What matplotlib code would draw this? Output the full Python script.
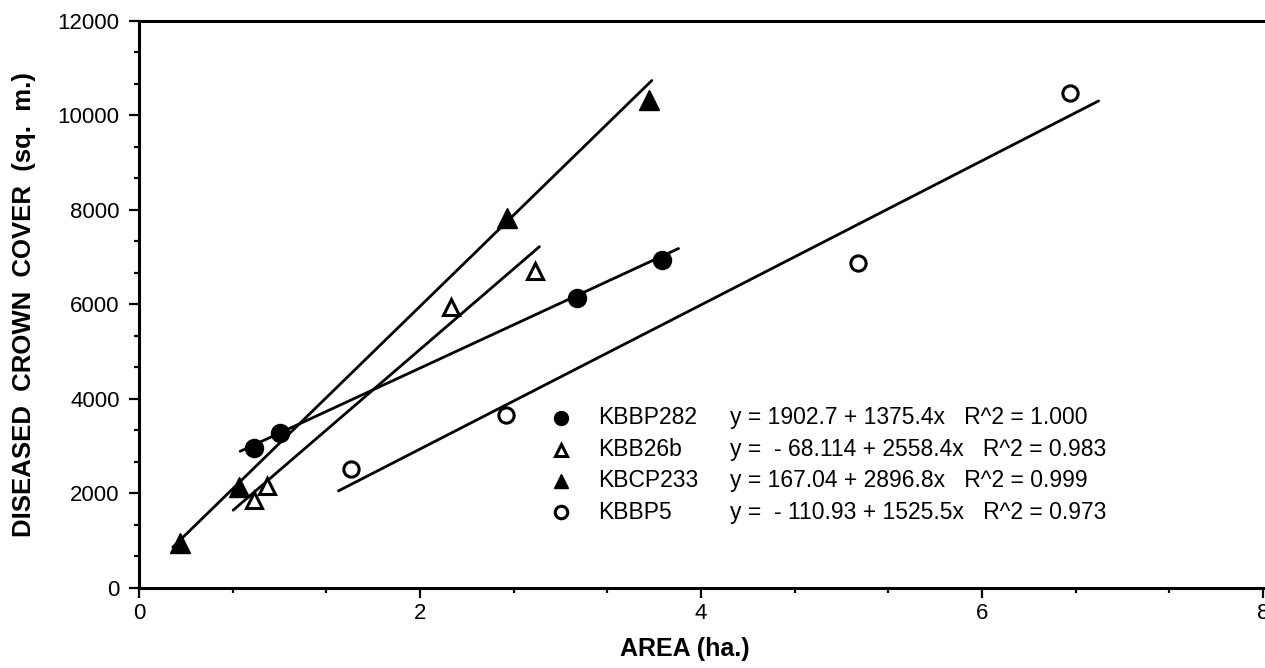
import numpy as np
import matplotlib.pyplot as plt
from matplotlib.ticker import MultipleLocator

plt.rcParams['font.family'] = ['Liberation Sans', 'DejaVu Sans']

# sample plots
names = ['KBBP282', 'KBB26b', 'KBCP233', 'KBBP5']

kbbp282_area = [0.82, 1.00, 3.12, 3.72]
kbbp282_cover = [2960, 3280, 6140, 6940]
kbb26b_area = [0.82, 0.91, 2.22, 2.82]
kbb26b_cover = [1860, 2150, 5950, 6710]
kbcp233_area = [0.29, 0.71, 2.62, 3.63]
kbcp233_cover = [950, 2140, 7830, 10330]
kbbp5_area = [1.51, 2.61, 5.12, 6.63]
kbbp5_cover = [2520, 3660, 6880, 10470]

# regression results printed on the chart
intercepts = [1902.7, -68.114, 167.04, -110.93]
slopes = [1375.4, 2558.4, 2896.8, 1525.5]
r_squared = [1.000, 0.983, 0.999, 0.973]
fit_from = [0.72, 0.67, 0.24, 1.42]
fit_to = [3.84, 2.85, 3.65, 6.83]

areas = [kbbp282_area, kbb26b_area, kbcp233_area, kbbp5_area]
covers = [kbbp282_cover, kbb26b_cover, kbcp233_cover, kbbp5_cover]

# marker, filled?
styles = [('o', True), ('^', False), ('^', True), ('o', False)]

fig = plt.figure(figsize=(12.65, 6.68), dpi=100)
ax = fig.add_axes([0.1099, 0.1198, 0.8885, 0.8488])

for i in range(len(names)):
    xl = np.array([fit_from[i], fit_to[i]])
    ax.plot(xl, intercepts[i] + slopes[i] * xl, color='black', lw=2.0,
            solid_capstyle='round', zorder=2)
    mk, filled = styles[i]
    ms = 13 if mk == 'o' else 14
    if not filled:
        ms -= 2
    ax.plot(areas[i], covers[i], linestyle='none', marker=mk, ms=ms,
            mfc='black' if filled else 'white', mec='black',
            mew=1.0 if filled else 2.2, zorder=3)

# legend drawn as a small table: marker, name, equation
row_y = [0.2998, 0.2434, 0.1887, 0.1335]
for i in range(len(names)):
    mk, filled = styles[i]
    ax.plot([0.3754], [row_y[i]], transform=ax.transAxes, linestyle='none',
            marker=mk, ms=10 if filled else 9,
            mfc='black' if filled else 'white', mec='black',
            mew=1.0 if filled else 2.2, clip_on=False)
    ax.text(0.4084, row_y[i], names[i], transform=ax.transAxes,
            fontsize=16.5, va='center', ha='left')
    b = intercepts[i]
    if b < 0:
        b_txt = f" - {abs(b):.5g}"
    else:
        b_txt = f"{b:.5g}"
    eq = f"y = {b_txt} + {slopes[i]:.5g}x   R^2 = {r_squared[i]:.3f}"
    ax.text(0.5258, row_y[i], eq, transform=ax.transAxes,
            fontsize=16.5, va='center', ha='left')

ax.set_xlim(0, 8)
ax.set_ylim(0, 12000)
ax.xaxis.set_major_locator(MultipleLocator(2))
ax.xaxis.set_minor_locator(MultipleLocator(2 / 3))
ax.yaxis.set_major_locator(MultipleLocator(2000))
ax.yaxis.set_minor_locator(MultipleLocator(2000 / 3))

for side in ['left', 'bottom', 'top']:
    ax.spines[side].set_linewidth(2.2)
ax.spines['right'].set_visible(False)

ax.tick_params(which='major', direction='out', length=7, width=1.6,
               labelsize=16, top=False, right=False)
ax.tick_params(which='minor', direction='out', length=3.5, width=1.6,
               top=False, right=False)
ax.tick_params(axis='y', which='major', pad=7)
ax.tick_params(axis='x', which='major', pad=4)

ax.set_xlabel('AREA (ha.)', fontsize=18, fontweight='bold', va='center')
ax.xaxis.set_label_coords(0.486, -0.1076)
ax.set_ylabel('DISEASED  CROWN  COVER  (sq.  m.)', fontsize=18.5,
              fontweight='bold', va='center')
ax.yaxis.set_label_coords(-0.1023, 0.5)

fig.savefig('out.png', dpi=100)
